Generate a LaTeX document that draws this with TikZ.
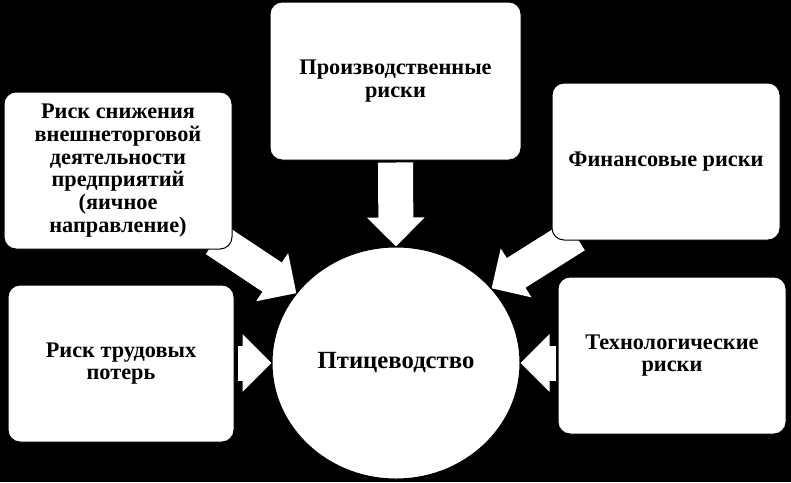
\documentclass[tikz,border=0pt]{standalone}
\usepackage{fontspec}
\setmainfont{Liberation Serif}
\usetikzlibrary{shapes.geometric,arrows.meta}
\pgfdeclarelayer{bg}
\pgfsetlayers{bg,main}
\tikzset{
  riskbox/.style={rectangle, rounded corners=12pt, draw=black, line width=1pt, fill=white,
    align=center, inner sep=2pt, font=\fontsize{22.3}{22.8}\selectfont\bfseries},
  hub/.style={ellipse, fill=white, draw=black, line width=1pt, inner sep=0pt,
    minimum width=248pt, minimum height=232pt, font=\fontsize{24.7}{26}\selectfont\bfseries},
  blockarr/.style={draw=white, line width=35pt, line cap=butt,
    -{Triangle[width=56pt,length=29pt]}}
}
\begin{document}
\begin{tikzpicture}[x=1pt,y=-1pt]
\useasboundingbox (0,0) rectangle (791,482);
% hub
\node[hub] (circ) at (396,363) {Птицеводство};
% boxes
\node[riskbox, minimum width=251pt, minimum height=158pt] (prod) at (395.5,81) {Производственные\\риски};
\node[riskbox, minimum width=228pt, minimum height=157pt] (lt) at (118,170.5) {Риск снижения\\внешнеторговой\\деятельности\\предприятий\\(яичное\\направление)};
\node[riskbox, minimum width=228pt, minimum height=157pt] (fin) at (666,161.5) {Финансовые риски};
\node[riskbox, minimum width=226pt, minimum height=157pt] (lb) at (121,363.5) {Риск трудовых\\потерь};
\node[riskbox, minimum width=228pt, minimum height=157pt] (rb) at (672,355.5) {Технологические\\риски};
\coordinate (lh) at (circ.west -| lb.east);
\coordinate (rh) at (circ.east -| rb.west);
% arrows and background
\begin{pgfonlayer}{bg}
\fill[black] (0,0) rectangle (791,482);
\draw[blockarr] ([yshift=-2pt]prod.south) -- (circ.north);
\draw[blockarr] ([shift={(-17,-10)}]lt.south east) -- (circ.145);
\draw[blockarr] ([shift={(24,-5)}]fin.south west) -- (circ.38);
\draw[blockarr] ([xshift=3pt]lh) -- (circ.west);
\draw[blockarr] ([xshift=-2pt]rh) -- (circ.east);
\end{pgfonlayer}
\end{tikzpicture}
\end{document}
